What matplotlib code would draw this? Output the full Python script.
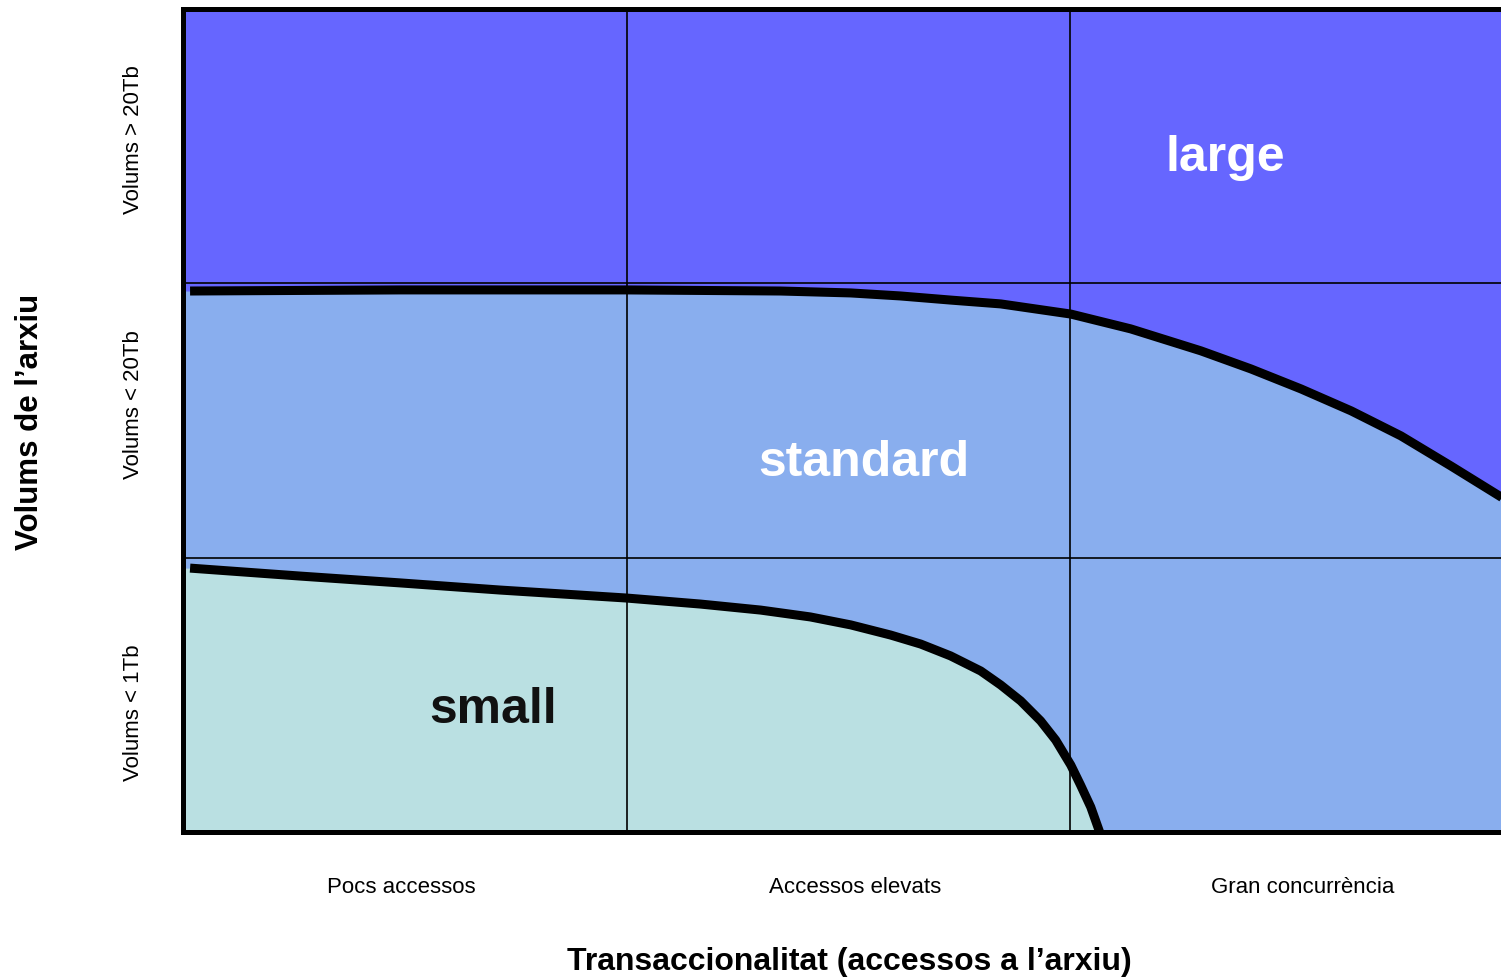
import numpy as np
import matplotlib.pyplot as plt

plt.rcParams['font.family'] = ['Liberation Sans', 'DejaVu Sans']

# column / row categories
col_labels = ["Pocs accessos", "Accessos elevats", "Gran concurrència"]
row_labels = ["Volums < 1Tb", "Volums < 20Tb", "Volums > 20Tb"]

# boundary between "standard" and "large"
upper_x = [0.0, 0.016, 0.490, 0.999, 1.347, 1.505, 1.617, 1.730, 1.843, 2.001, 2.136,
           2.294, 2.407, 2.520, 2.633, 2.745, 2.858, 2.971, 3.039]
upper_y = [1.972, 1.972, 1.976, 1.976, 1.972, 1.965, 1.954, 1.939, 1.925, 1.888, 1.834,
           1.754, 1.688, 1.615, 1.535, 1.444, 1.334, 1.221, 1.141]

# boundary between "small" and "standard"
lower_x = [0.0, 0.016, 0.264, 0.490, 0.715, 0.999, 1.166, 1.302, 1.414, 1.505, 1.595, 1.663,
           1.730, 1.798, 1.843, 1.888, 1.933, 1.967, 2.001, 2.023, 2.046, 2.066]
lower_y = [0.962, 0.962, 0.933, 0.908, 0.882, 0.853, 0.831, 0.809, 0.784, 0.755, 0.718, 0.685,
           0.642, 0.587, 0.536, 0.478, 0.405, 0.335, 0.244, 0.171, 0.091, 0.0]

regions = ["small", "standard", "large"]
region_pos = [(0.70, 0.45), (1.535, 1.35), (2.35, 2.46)]
region_color = ["#111111", "white", "white"]

c_large = "#6666ff"
c_std = "#89aeee"
c_small = "#bae0e2"

fig = plt.figure(figsize=(15.01, 9.79), dpi=100)
ax = fig.add_axes([0.1219, 0.1491, 0.8868, 0.8407])
ax.set_xlim(0, 3)
ax.set_ylim(0, 3)

ax.axhspan(0, 3, color=c_large, zorder=0)
ax.fill_between(upper_x, 0, upper_y, color=c_std, lw=0, zorder=1)
ax.fill_between(lower_x, 0, lower_y, color=c_small, lw=0, zorder=2)

for v in [1, 2]:
    ax.axvline(v, color="black", lw=1.2, zorder=3)
    ax.axhline(v, color="black", lw=1.2, zorder=3)

ax.plot(upper_x[1:], upper_y[1:], color="black", lw=6.5, solid_capstyle="butt",
        solid_joinstyle="round", zorder=4)
ax.plot(lower_x[1:], lower_y[1:], color="black", lw=6.5, solid_capstyle="butt",
        solid_joinstyle="round", zorder=4)

for name, (x, y), c in zip(regions, region_pos, region_color):
    ax.text(x, y, name, color=c, fontsize=36, fontweight="bold", ha="center", va="center", zorder=5)

for s in ax.spines.values():
    s.set_linewidth(3.6)
    s.set_zorder(6)

ax.set_xticks([0.492, 1.516, 2.524])
ax.set_xticklabels(col_labels, fontsize=16)
ax.set_yticks([0.437, 1.56, 2.526])
ax.set_yticklabels(row_labels, fontsize=16, rotation=90, va="center")
ax.tick_params(length=0)
ax.tick_params(axis="x", pad=32)
ax.tick_params(axis="y", pad=28)

fig.text(849 / 1501, 1 - 962 / 979, "Transaccionalitat (accessos a l\u2019arxiu)",
         fontsize=23, fontweight="bold", ha="center", va="center")
fig.text(30 / 1501, 1 - 422 / 979, "Volums de l\u2019arxiu",
         fontsize=22.5, fontweight="bold", ha="center", va="center", rotation=90)

fig.savefig("out.png", dpi=100)
